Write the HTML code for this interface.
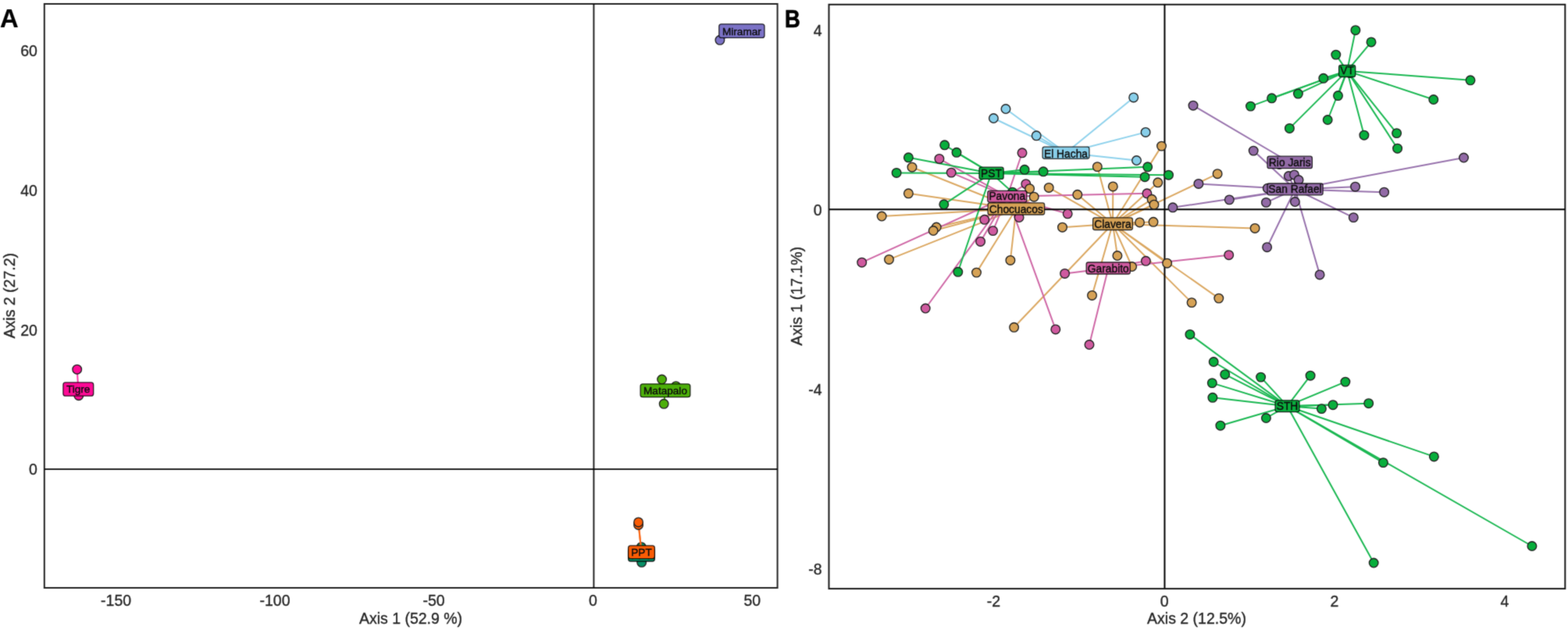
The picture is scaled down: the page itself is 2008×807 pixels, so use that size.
<!DOCTYPE html><html><head><meta charset="utf-8"><title>Figure</title><style>
html,body{margin:0;padding:0;background:#fff;overflow:hidden;}svg{display:block;}
text{font-family:'Liberation Sans', Arial, Helvetica, sans-serif;}
</style></head><body>
<svg width="2008" height="807" viewBox="0 0 2008 807">
<defs><filter id="soft" x="0" y="0" width="1" height="1" filterUnits="objectBoundingBox" color-interpolation-filters="sRGB"><feConvolveMatrix order="3" kernelMatrix="0.01917 0.10012 0.01917 0.10012 0.52283 0.10012 0.01917 0.10012 0.01917" divisor="1" edgeMode="duplicate"/></filter></defs>
<rect width="2008" height="807" fill="#fff"/>
<g filter="url(#soft)">
<rect width="2008" height="807" fill="#fff"/>
<rect x="56.8" y="5" width="938.8" height="748" fill="none" stroke="#000" stroke-opacity="0.86" stroke-width="2"/>
<rect x="1061.5" y="5.8" width="942.8" height="748.3" fill="none" stroke="#000" stroke-opacity="0.9" stroke-width="2"/>
<g stroke="#000" stroke-opacity="0.86" stroke-width="2">
<line x1="760.4" y1="5" x2="760.4" y2="753"/><line x1="57" y1="601" x2="995.5" y2="601"/>
</g>
<g fill="#262626" stroke="#262626" stroke-width="0.35" font-size="19.5px">
<text x="148.6" y="776.0" text-anchor="middle">-150</text>
<text x="352.0" y="776.0" text-anchor="middle">-100</text>
<text x="555.6" y="776.0" text-anchor="middle">-50</text>
<text x="759.5" y="776.0" text-anchor="middle">0</text>
<text x="963.3" y="776.0" text-anchor="middle">50</text>
<text x="47.9" y="72.1" text-anchor="end">60</text>
<text x="47.9" y="250.9" text-anchor="end">40</text>
<text x="47.9" y="429.6" text-anchor="end">20</text>
<text x="47.9" y="608.4" text-anchor="end">0</text>
<text x="1272.4" y="777.2" text-anchor="middle">-2</text>
<text x="1491.1" y="777.2" text-anchor="middle">0</text>
<text x="1709.0" y="777.2" text-anchor="middle">2</text>
<text x="1927.0" y="777.2" text-anchor="middle">4</text>
<text x="1052.5" y="45.9" text-anchor="end">4</text>
<text x="1052.5" y="275.8" text-anchor="end">0</text>
<text x="1052.5" y="505.6" text-anchor="end">-4</text>
<text x="1052.5" y="735.6" text-anchor="end">-8</text>
<text x="526" y="799" text-anchor="middle">Axis 1 (52.9 %)</text>
<text x="1532.5" y="799.4" text-anchor="middle">Axis 2 (12.5%)</text>
<text transform="translate(18.6,378.7) rotate(-90)" text-anchor="middle">Axis 2 (27.2)</text>
<text transform="translate(1027.4,379.4) rotate(-90)" text-anchor="middle">Axis 1 (17.1%)</text>
</g>
<text x="0" y="34.8" font-size="32.8px" font-weight="bold" fill="#000" stroke="#000" stroke-width="0.2">A</text>
<text transform="translate(1005.0,34.6) scale(0.86,1)" x="0" y="0" font-size="31.8px" font-weight="bold" fill="#000" stroke="#000" stroke-width="0.7">B</text>
<g stroke="#078f66" stroke-width="2" stroke-linecap="round">
<line x1="821.5" y1="710.6" x2="821.3" y2="700.7"/>
<line x1="821.5" y1="710.6" x2="821.7" y2="717.6"/>
<line x1="821.5" y1="710.6" x2="821.7" y2="720.3"/>
</g>
<g fill="#078f66" stroke="#222" stroke-width="1.35">
<circle cx="821.3" cy="700.7" r="5.8"/>
<circle cx="821.7" cy="717.6" r="5.8"/>
<circle cx="821.7" cy="720.3" r="5.8"/>
</g>
<rect x="804.6" y="702.1" width="33.8" height="16.9" rx="3" fill="#078f66" stroke="#000" stroke-opacity="0.8" stroke-width="1.3"/>
<text x="821.5" y="715.8" text-anchor="middle" font-size="13.6px" fill="#0d0d0d" stroke="#0d0d0d" stroke-width="0.4">PPT</text>
<g stroke="#fa6a1a" stroke-width="2" stroke-linecap="round">
<line x1="821.5" y1="707.2" x2="817.6" y2="672.4"/>
<line x1="821.5" y1="707.2" x2="817.6" y2="668.9"/>
</g>
<g fill="#fa5c05" stroke="#222" stroke-width="1.35">
<circle cx="817.6" cy="672.4" r="5.8"/>
<circle cx="817.6" cy="668.9" r="5.8"/>
</g>
<rect x="804.6" y="698.9" width="33.8" height="16.8" rx="3" fill="#fa5c05" stroke="#000" stroke-opacity="0.8" stroke-width="1.3"/>
<text x="821.5" y="712.3" text-anchor="middle" font-size="13.6px" fill="#0d0d0d" stroke="#0d0d0d" stroke-width="0.4">PPT</text>
<g stroke="#4caf0a" stroke-width="2" stroke-linecap="round">
<line x1="852.0" y1="500.3" x2="847.6" y2="486.0"/>
<line x1="852.0" y1="500.3" x2="865.6" y2="494.6"/>
<line x1="852.0" y1="500.3" x2="850.2" y2="517.3"/>
</g>
<g fill="#4caf0a" stroke="#222" stroke-width="1.35">
<circle cx="847.6" cy="486.0" r="5.8"/>
<circle cx="865.6" cy="494.6" r="5.8"/>
<circle cx="850.2" cy="517.3" r="5.8"/>
</g>
<rect x="820.1" y="491.8" width="63.8" height="16.9" rx="3" fill="#4caf0a" stroke="#000" stroke-opacity="0.8" stroke-width="1.3"/>
<text x="852.0" y="505.0" text-anchor="middle" font-size="13.6px" fill="#0d0d0d" stroke="#0d0d0d" stroke-width="0.4">Matapalo</text>
<g stroke="#ff3aa8" stroke-width="2" stroke-linecap="round">
<line x1="100.3" y1="498.6" x2="98.7" y2="473.2"/>
<line x1="100.3" y1="498.6" x2="100.8" y2="506.7"/>
</g>
<g fill="#ff0a96" stroke="#222" stroke-width="1.35">
<circle cx="98.7" cy="473.2" r="5.8"/>
<circle cx="100.8" cy="506.7" r="5.8"/>
</g>
<rect x="80.9" y="489.9" width="38.8" height="17.3" rx="3" fill="#ff0a96" stroke="#000" stroke-opacity="0.8" stroke-width="1.3"/>
<text x="100.2" y="503.1" text-anchor="middle" font-size="13.6px" fill="#0d0d0d" stroke="#0d0d0d" stroke-width="0.4">Tigre</text>
<g stroke="#7b72c6" stroke-width="2" stroke-linecap="round">
<line x1="949.9" y1="39.7" x2="921.9" y2="51.3"/>
</g>
<g fill="#7b72c6" stroke="#222" stroke-width="1.35">
<circle cx="921.9" cy="51.3" r="5.8"/>
</g>
<rect x="920.8" y="30.8" width="58.2" height="17.6" rx="3" fill="#7b72c6" stroke="#000" stroke-opacity="0.8" stroke-width="1.3"/>
<text x="949.9" y="44.8" text-anchor="middle" font-size="13.6px" fill="#0d0d0d" stroke="#0d0d0d" stroke-width="0.4">Miramar</text>
<g stroke="#8fd2ec" stroke-width="2" stroke-linecap="round">
<line x1="1365.0" y1="195.8" x2="1451.7" y2="124.9"/>
<line x1="1365.0" y1="195.8" x2="1288.0" y2="139.5"/>
<line x1="1365.0" y1="195.8" x2="1272.4" y2="151.5"/>
<line x1="1365.0" y1="195.8" x2="1327.2" y2="173.8"/>
<line x1="1365.0" y1="195.8" x2="1467.1" y2="169.4"/>
<line x1="1365.0" y1="195.8" x2="1455.5" y2="205.5"/>
</g>
<g stroke="#9873ad" stroke-width="2" stroke-linecap="round">
<line x1="1651.7" y1="208.0" x2="1528.0" y2="135.2"/>
<line x1="1651.7" y1="208.0" x2="1638.4" y2="210.5"/>
</g>
<g stroke="#9873ad" stroke-width="2" stroke-linecap="round">
<line x1="1658.5" y1="242.4" x2="1605.2" y2="193.1"/>
<line x1="1658.5" y1="242.4" x2="1650.3" y2="225.5"/>
<line x1="1658.5" y1="242.4" x2="1657.5" y2="223.9"/>
<line x1="1658.5" y1="242.4" x2="1663.1" y2="230.5"/>
<line x1="1658.5" y1="242.4" x2="1534.9" y2="235.4"/>
<line x1="1658.5" y1="242.4" x2="1574.3" y2="255.9"/>
<line x1="1658.5" y1="242.4" x2="1501.9" y2="265.8"/>
<line x1="1658.5" y1="242.4" x2="1623.3" y2="241.2"/>
<line x1="1658.5" y1="242.4" x2="1621.4" y2="259.4"/>
<line x1="1658.5" y1="242.4" x2="1658.4" y2="258.5"/>
<line x1="1658.5" y1="242.4" x2="1735.6" y2="239.2"/>
<line x1="1658.5" y1="242.4" x2="1772.6" y2="246.2"/>
<line x1="1658.5" y1="242.4" x2="1733.3" y2="278.6"/>
<line x1="1658.5" y1="242.4" x2="1874.5" y2="202.0"/>
<line x1="1658.5" y1="242.4" x2="1622.6" y2="316.7"/>
<line x1="1658.5" y1="242.4" x2="1690.1" y2="351.9"/>
</g>
<g stroke="#dba862" stroke-width="2" stroke-linecap="round">
<line x1="1425.0" y1="286.8" x2="1298.6" y2="419.3"/>
<line x1="1425.0" y1="286.8" x2="1343.2" y2="240.4"/>
<line x1="1425.0" y1="286.8" x2="1379.8" y2="249.3"/>
<line x1="1425.0" y1="286.8" x2="1405.3" y2="213.6"/>
<line x1="1425.0" y1="286.8" x2="1425.3" y2="238.9"/>
<line x1="1425.0" y1="286.8" x2="1487.5" y2="187.1"/>
<line x1="1425.0" y1="286.8" x2="1482.8" y2="233.8"/>
<line x1="1425.0" y1="286.8" x2="1475.1" y2="255.3"/>
<line x1="1425.0" y1="286.8" x2="1477.9" y2="262.2"/>
<line x1="1425.0" y1="286.8" x2="1459.5" y2="284.9"/>
<line x1="1425.0" y1="286.8" x2="1477.0" y2="284.3"/>
<line x1="1425.0" y1="286.8" x2="1360.5" y2="291.2"/>
<line x1="1425.0" y1="286.8" x2="1430.9" y2="327.5"/>
<line x1="1425.0" y1="286.8" x2="1449.6" y2="341.5"/>
<line x1="1425.0" y1="286.8" x2="1494.6" y2="337.2"/>
<line x1="1425.0" y1="286.8" x2="1398.5" y2="378.4"/>
<line x1="1425.0" y1="286.8" x2="1526.1" y2="387.6"/>
<line x1="1425.0" y1="286.8" x2="1560.8" y2="382.1"/>
<line x1="1425.0" y1="286.8" x2="1559.1" y2="222.7"/>
<line x1="1425.0" y1="286.8" x2="1607.1" y2="292.4"/>
</g>
<g stroke="#dba862" stroke-width="2" stroke-linecap="round">
<line x1="1301.3" y1="267.5" x2="1168.0" y2="214.2"/>
<line x1="1301.3" y1="267.5" x2="1163.4" y2="247.8"/>
<line x1="1301.3" y1="267.5" x2="1129.2" y2="277.0"/>
<line x1="1301.3" y1="267.5" x2="1199.2" y2="291.0"/>
<line x1="1301.3" y1="267.5" x2="1195.2" y2="295.5"/>
<line x1="1301.3" y1="267.5" x2="1138.5" y2="332.4"/>
<line x1="1301.3" y1="267.5" x2="1293.9" y2="333.4"/>
<line x1="1301.3" y1="267.5" x2="1250.5" y2="349.1"/>
<line x1="1301.3" y1="267.5" x2="1318.6" y2="241.7"/>
<line x1="1301.3" y1="267.5" x2="1324.2" y2="252.2"/>
</g>
<g stroke="#cf68a6" stroke-width="2" stroke-linecap="round">
<line x1="1419.3" y1="343.6" x2="1363.6" y2="350.4"/>
<line x1="1419.3" y1="343.6" x2="1467.4" y2="334.3"/>
<line x1="1419.3" y1="343.6" x2="1573.7" y2="326.7"/>
<line x1="1419.3" y1="343.6" x2="1395.0" y2="441.5"/>
</g>
<g stroke="#cf68a6" stroke-width="2" stroke-linecap="round">
<line x1="1289.8" y1="251.7" x2="1202.9" y2="203.4"/>
<line x1="1289.8" y1="251.7" x2="1218.2" y2="221.1"/>
<line x1="1289.8" y1="251.7" x2="1309.0" y2="195.8"/>
<line x1="1289.8" y1="251.7" x2="1313.8" y2="235.6"/>
<line x1="1289.8" y1="251.7" x2="1260.8" y2="281.3"/>
<line x1="1289.8" y1="251.7" x2="1271.6" y2="295.6"/>
<line x1="1289.8" y1="251.7" x2="1255.6" y2="309.4"/>
<line x1="1289.8" y1="251.7" x2="1185.2" y2="395.0"/>
<line x1="1289.8" y1="251.7" x2="1103.7" y2="336.2"/>
<line x1="1289.8" y1="251.7" x2="1305.1" y2="278.5"/>
<line x1="1289.8" y1="251.7" x2="1367.2" y2="273.8"/>
<line x1="1289.8" y1="251.7" x2="1468.9" y2="247.8"/>
<line x1="1289.8" y1="251.7" x2="1351.8" y2="421.9"/>
</g>
<g stroke="#1cb853" stroke-width="2" stroke-linecap="round">
<line x1="1269.5" y1="221.9" x2="1209.7" y2="185.8"/>
<line x1="1269.5" y1="221.9" x2="1225.0" y2="195.3"/>
<line x1="1269.5" y1="221.9" x2="1163.4" y2="201.8"/>
<line x1="1269.5" y1="221.9" x2="1148.1" y2="221.4"/>
<line x1="1269.5" y1="221.9" x2="1208.8" y2="261.8"/>
<line x1="1269.5" y1="221.9" x2="1312.1" y2="217.3"/>
<line x1="1269.5" y1="221.9" x2="1336.1" y2="219.8"/>
<line x1="1269.5" y1="221.9" x2="1296.5" y2="246.2"/>
<line x1="1269.5" y1="221.9" x2="1226.8" y2="348.3"/>
<line x1="1269.5" y1="221.9" x2="1469.7" y2="213.8"/>
<line x1="1269.5" y1="221.9" x2="1466.1" y2="226.7"/>
<line x1="1269.5" y1="221.9" x2="1496.5" y2="224.2"/>
</g>
<g stroke="#1cb853" stroke-width="2" stroke-linecap="round">
<line x1="1725.1" y1="90.9" x2="1735.9" y2="38.7"/>
<line x1="1725.1" y1="90.9" x2="1756.0" y2="53.9"/>
<line x1="1725.1" y1="90.9" x2="1710.8" y2="70.1"/>
<line x1="1725.1" y1="90.9" x2="1694.8" y2="100.3"/>
<line x1="1725.1" y1="90.9" x2="1662.4" y2="120.1"/>
<line x1="1725.1" y1="90.9" x2="1628.6" y2="125.8"/>
<line x1="1725.1" y1="90.9" x2="1601.5" y2="136.1"/>
<line x1="1725.1" y1="90.9" x2="1713.5" y2="122.6"/>
<line x1="1725.1" y1="90.9" x2="1700.2" y2="153.5"/>
<line x1="1725.1" y1="90.9" x2="1651.4" y2="164.4"/>
<line x1="1725.1" y1="90.9" x2="1746.9" y2="173.2"/>
<line x1="1725.1" y1="90.9" x2="1788.6" y2="170.6"/>
<line x1="1725.1" y1="90.9" x2="1789.6" y2="190.2"/>
<line x1="1725.1" y1="90.9" x2="1883.0" y2="102.8"/>
<line x1="1725.1" y1="90.9" x2="1835.8" y2="127.5"/>
<line x1="1725.1" y1="90.9" x2="1728.8" y2="93.5"/>
</g>
<g stroke="#1cb853" stroke-width="2" stroke-linecap="round">
<line x1="1648.5" y1="520.2" x2="1523.9" y2="428.4"/>
<line x1="1648.5" y1="520.2" x2="1554.2" y2="463.5"/>
<line x1="1648.5" y1="520.2" x2="1568.7" y2="479.7"/>
<line x1="1648.5" y1="520.2" x2="1552.3" y2="490.6"/>
<line x1="1648.5" y1="520.2" x2="1614.6" y2="483.1"/>
<line x1="1648.5" y1="520.2" x2="1678.1" y2="481.2"/>
<line x1="1648.5" y1="520.2" x2="1722.9" y2="489.1"/>
<line x1="1648.5" y1="520.2" x2="1552.9" y2="509.3"/>
<line x1="1648.5" y1="520.2" x2="1562.9" y2="545.2"/>
<line x1="1648.5" y1="520.2" x2="1621.4" y2="535.5"/>
<line x1="1648.5" y1="520.2" x2="1692.4" y2="523.6"/>
<line x1="1648.5" y1="520.2" x2="1707.0" y2="518.7"/>
<line x1="1648.5" y1="520.2" x2="1752.7" y2="516.7"/>
<line x1="1648.5" y1="520.2" x2="1771.4" y2="592.6"/>
<line x1="1648.5" y1="520.2" x2="1836.4" y2="584.9"/>
<line x1="1648.5" y1="520.2" x2="1759.2" y2="721.0"/>
<line x1="1648.5" y1="520.2" x2="1961.9" y2="699.5"/>
</g>
<g stroke="#000" stroke-opacity="1" stroke-width="2">
<line x1="1491.45" y1="5.8" x2="1491.45" y2="753.5"/><line x1="1062" y1="268.35" x2="2004" y2="268.35"/>
</g>
<g fill="#cf5a9f" stroke="#222" stroke-width="1.35">
<circle cx="1363.6" cy="350.4" r="5.8"/>
<circle cx="1467.4" cy="334.3" r="5.8"/>
<circle cx="1573.7" cy="326.7" r="5.8"/>
<circle cx="1395.0" cy="441.5" r="5.8"/>
</g>
<g fill="#cf5a9f" stroke="#222" stroke-width="1.35">
<circle cx="1202.9" cy="203.4" r="5.8"/>
<circle cx="1218.2" cy="221.1" r="5.8"/>
<circle cx="1309.0" cy="195.8" r="5.8"/>
<circle cx="1313.8" cy="235.6" r="5.8"/>
<circle cx="1260.8" cy="281.3" r="5.8"/>
<circle cx="1271.6" cy="295.6" r="5.8"/>
<circle cx="1255.6" cy="309.4" r="5.8"/>
<circle cx="1185.2" cy="395.0" r="5.8"/>
<circle cx="1103.7" cy="336.2" r="5.8"/>
<circle cx="1305.1" cy="278.5" r="5.8"/>
<circle cx="1367.2" cy="273.8" r="5.8"/>
<circle cx="1468.9" cy="247.8" r="5.8"/>
<circle cx="1351.8" cy="421.9" r="5.8"/>
</g>
<g fill="#88cfea" stroke="#222" stroke-width="1.35">
<circle cx="1451.7" cy="124.9" r="5.8"/>
<circle cx="1288.0" cy="139.5" r="5.8"/>
<circle cx="1272.4" cy="151.5" r="5.8"/>
<circle cx="1327.2" cy="173.8" r="5.8"/>
<circle cx="1467.1" cy="169.4" r="5.8"/>
<circle cx="1455.5" cy="205.5" r="5.8"/>
</g>
<g fill="#926aa6" stroke="#222" stroke-width="1.35">
<circle cx="1528.0" cy="135.2" r="5.8"/>
<circle cx="1638.4" cy="210.5" r="5.8"/>
</g>
<g fill="#926aa6" stroke="#222" stroke-width="1.35">
<circle cx="1605.2" cy="193.1" r="5.8"/>
<circle cx="1650.3" cy="225.5" r="5.8"/>
<circle cx="1657.5" cy="223.9" r="5.8"/>
<circle cx="1663.1" cy="230.5" r="5.8"/>
<circle cx="1534.9" cy="235.4" r="5.8"/>
<circle cx="1574.3" cy="255.9" r="5.8"/>
<circle cx="1501.9" cy="265.8" r="5.8"/>
<circle cx="1623.3" cy="241.2" r="5.8"/>
<circle cx="1621.4" cy="259.4" r="5.8"/>
<circle cx="1658.4" cy="258.5" r="5.8"/>
<circle cx="1735.6" cy="239.2" r="5.8"/>
<circle cx="1772.6" cy="246.2" r="5.8"/>
<circle cx="1733.3" cy="278.6" r="5.8"/>
<circle cx="1874.5" cy="202.0" r="5.8"/>
<circle cx="1622.6" cy="316.7" r="5.8"/>
<circle cx="1690.1" cy="351.9" r="5.8"/>
</g>
<g fill="#d6a256" stroke="#222" stroke-width="1.35">
<circle cx="1298.6" cy="419.3" r="5.8"/>
<circle cx="1343.2" cy="240.4" r="5.8"/>
<circle cx="1379.8" cy="249.3" r="5.8"/>
<circle cx="1405.3" cy="213.6" r="5.8"/>
<circle cx="1425.3" cy="238.9" r="5.8"/>
<circle cx="1487.5" cy="187.1" r="5.8"/>
<circle cx="1482.8" cy="233.8" r="5.8"/>
<circle cx="1475.1" cy="255.3" r="5.8"/>
<circle cx="1477.9" cy="262.2" r="5.8"/>
<circle cx="1459.5" cy="284.9" r="5.8"/>
<circle cx="1477.0" cy="284.3" r="5.8"/>
<circle cx="1360.5" cy="291.2" r="5.8"/>
<circle cx="1430.9" cy="327.5" r="5.8"/>
<circle cx="1449.6" cy="341.5" r="5.8"/>
<circle cx="1494.6" cy="337.2" r="5.8"/>
<circle cx="1398.5" cy="378.4" r="5.8"/>
<circle cx="1526.1" cy="387.6" r="5.8"/>
<circle cx="1560.8" cy="382.1" r="5.8"/>
<circle cx="1559.1" cy="222.7" r="5.8"/>
<circle cx="1607.1" cy="292.4" r="5.8"/>
</g>
<g fill="#d6a256" stroke="#222" stroke-width="1.35">
<circle cx="1168.0" cy="214.2" r="5.8"/>
<circle cx="1163.4" cy="247.8" r="5.8"/>
<circle cx="1129.2" cy="277.0" r="5.8"/>
<circle cx="1199.2" cy="291.0" r="5.8"/>
<circle cx="1195.2" cy="295.5" r="5.8"/>
<circle cx="1138.5" cy="332.4" r="5.8"/>
<circle cx="1293.9" cy="333.4" r="5.8"/>
<circle cx="1250.5" cy="349.1" r="5.8"/>
<circle cx="1318.6" cy="241.7" r="5.8"/>
<circle cx="1324.2" cy="252.2" r="5.8"/>
</g>
<g fill="#08ae3c" stroke="#222" stroke-width="1.35">
<circle cx="1209.7" cy="185.8" r="5.8"/>
<circle cx="1225.0" cy="195.3" r="5.8"/>
<circle cx="1163.4" cy="201.8" r="5.8"/>
<circle cx="1148.1" cy="221.4" r="5.8"/>
<circle cx="1208.8" cy="261.8" r="5.8"/>
<circle cx="1312.1" cy="217.3" r="5.8"/>
<circle cx="1336.1" cy="219.8" r="5.8"/>
<circle cx="1296.5" cy="246.2" r="5.8"/>
<circle cx="1226.8" cy="348.3" r="5.8"/>
<circle cx="1469.7" cy="213.8" r="5.8"/>
<circle cx="1466.1" cy="226.7" r="5.8"/>
<circle cx="1496.5" cy="224.2" r="5.8"/>
</g>
<g fill="#08ae3c" stroke="#222" stroke-width="1.35">
<circle cx="1735.9" cy="38.7" r="5.8"/>
<circle cx="1756.0" cy="53.9" r="5.8"/>
<circle cx="1710.8" cy="70.1" r="5.8"/>
<circle cx="1694.8" cy="100.3" r="5.8"/>
<circle cx="1662.4" cy="120.1" r="5.8"/>
<circle cx="1628.6" cy="125.8" r="5.8"/>
<circle cx="1601.5" cy="136.1" r="5.8"/>
<circle cx="1713.5" cy="122.6" r="5.8"/>
<circle cx="1700.2" cy="153.5" r="5.8"/>
<circle cx="1651.4" cy="164.4" r="5.8"/>
<circle cx="1746.9" cy="173.2" r="5.8"/>
<circle cx="1788.6" cy="170.6" r="5.8"/>
<circle cx="1789.6" cy="190.2" r="5.8"/>
<circle cx="1883.0" cy="102.8" r="5.8"/>
<circle cx="1835.8" cy="127.5" r="5.8"/>
<circle cx="1728.8" cy="93.5" r="5.8"/>
</g>
<g fill="#08ae3c" stroke="#222" stroke-width="1.35">
<circle cx="1523.9" cy="428.4" r="5.8"/>
<circle cx="1554.2" cy="463.5" r="5.8"/>
<circle cx="1568.7" cy="479.7" r="5.8"/>
<circle cx="1552.3" cy="490.6" r="5.8"/>
<circle cx="1614.6" cy="483.1" r="5.8"/>
<circle cx="1678.1" cy="481.2" r="5.8"/>
<circle cx="1722.9" cy="489.1" r="5.8"/>
<circle cx="1552.9" cy="509.3" r="5.8"/>
<circle cx="1562.9" cy="545.2" r="5.8"/>
<circle cx="1621.4" cy="535.5" r="5.8"/>
<circle cx="1692.4" cy="523.6" r="5.8"/>
<circle cx="1707.0" cy="518.7" r="5.8"/>
<circle cx="1752.7" cy="516.7" r="5.8"/>
<circle cx="1771.4" cy="592.6" r="5.8"/>
<circle cx="1836.4" cy="584.9" r="5.8"/>
<circle cx="1759.2" cy="721.0" r="5.8"/>
<circle cx="1961.9" cy="699.5" r="5.8"/>
</g>
<rect x="1335.1" y="188.2" width="59.8" height="15.1" rx="2.5" fill="#88cfea" stroke="#000" stroke-opacity="0.8" stroke-width="1.3"/>
<text x="1365.0" y="201.5" text-anchor="middle" font-size="13.8px" fill="#0d0d0d" stroke="#0d0d0d" stroke-width="0.4">El Hacha</text>
<rect x="1623.0" y="200.2" width="57.4" height="15.5" rx="2.5" fill="#926aa6" stroke="#000" stroke-opacity="0.8" stroke-width="1.3"/>
<text x="1651.7" y="213.2" text-anchor="middle" font-size="13.8px" fill="#0d0d0d" stroke="#0d0d0d" stroke-width="0.4">Rio Jaris</text>
<rect x="1623.0" y="235.0" width="71.1" height="14.8" rx="2.5" fill="#926aa6" stroke="#000" stroke-opacity="0.8" stroke-width="1.3"/>
<text x="1658.5" y="247.1" text-anchor="middle" font-size="13.8px" fill="#0d0d0d" stroke="#0d0d0d" stroke-width="0.4">San Rafael</text>
<rect x="1399.6" y="278.9" width="50.8" height="15.6" rx="2.5" fill="#d6a256" stroke="#000" stroke-opacity="0.8" stroke-width="1.3"/>
<text x="1425.0" y="291.7" text-anchor="middle" font-size="13.8px" fill="#0d0d0d" stroke="#0d0d0d" stroke-width="0.4">Clavera</text>
<rect x="1265.1" y="259.9" width="72.5" height="15.1" rx="2.5" fill="#d6a256" stroke="#000" stroke-opacity="0.8" stroke-width="1.3"/>
<text x="1301.3" y="272.5" text-anchor="middle" font-size="13.8px" fill="#0d0d0d" stroke="#0d0d0d" stroke-width="0.4">Chocuacos</text>
<rect x="1391.2" y="336.0" width="56.1" height="15.0" rx="2.5" fill="#cf5a9f" stroke="#000" stroke-opacity="0.8" stroke-width="1.3"/>
<text x="1419.3" y="348.8" text-anchor="middle" font-size="13.8px" fill="#0d0d0d" stroke="#0d0d0d" stroke-width="0.4">Garabito</text>
<rect x="1264.8" y="244.4" width="50.0" height="14.7" rx="2.5" fill="#cf5a9f" stroke="#000" stroke-opacity="0.8" stroke-width="1.3"/>
<text x="1289.8" y="256.0" text-anchor="middle" font-size="13.8px" fill="#0d0d0d" stroke="#0d0d0d" stroke-width="0.4">Pavona</text>
<rect x="1254.0" y="214.2" width="31.1" height="15.2" rx="2.5" fill="#08ae3c" stroke="#000" stroke-opacity="0.8" stroke-width="1.3"/>
<text x="1269.5" y="226.7" text-anchor="middle" font-size="13.8px" fill="#0d0d0d" stroke="#0d0d0d" stroke-width="0.4">PST</text>
<rect x="1714.6" y="83.4" width="21.1" height="15.1" rx="2.5" fill="#08ae3c" stroke="#000" stroke-opacity="0.8" stroke-width="1.3"/>
<text x="1725.1" y="95.4" text-anchor="middle" font-size="13.8px" fill="#0d0d0d" stroke="#0d0d0d" stroke-width="0.4">VT</text>
<rect x="1633.1" y="512.8" width="30.9" height="14.8" rx="2.5" fill="#08ae3c" stroke="#000" stroke-opacity="0.8" stroke-width="1.3"/>
<text x="1648.5" y="525.1" text-anchor="middle" font-size="13.8px" fill="#0d0d0d" stroke="#0d0d0d" stroke-width="0.4">STH</text>
</g></svg></body></html>
